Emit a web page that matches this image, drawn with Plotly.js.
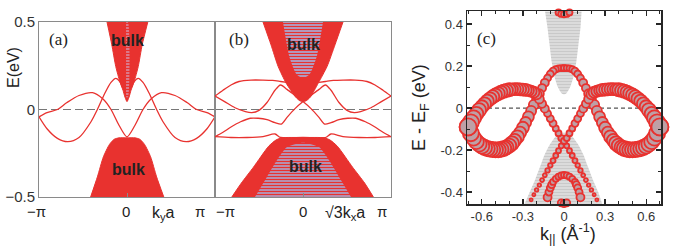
<!DOCTYPE html>
<html><head><meta charset="utf-8">
<script src="https://cdn.plot.ly/plotly-3.0.1.min.js"></script>
<style>html,body{margin:0;padding:0;background:#fff}#g{width:690px;height:248px}</style>
</head><body><div id="g"></div>
<script>
// ---------- Panel (a): x in units of pi, E in eV ----------
const aUpBulkX = [-0.25,-0.19,-0.14,-0.09,-0.05,-0.025,0,0.025,0.05,0.09,0.14,0.19,0.26];
const aUpBulkE = [0.5,0.37,0.245,0.16,0.11,0.07,0.045,0.07,0.11,0.16,0.245,0.37,0.5];
const aLowBulkX = [-0.455,-0.37,-0.295,-0.22,-0.16,-0.1,0,0.1,0.16,0.22,0.295,0.37,0.46];
const aLowBulkE = [-0.5,-0.385,-0.27,-0.2,-0.17,-0.162,-0.162,-0.162,-0.17,-0.2,-0.27,-0.385,-0.5];
const aStripeX = [-0.012,0.012,0.012,-0.012];
const aStripeE = [0.5,0.5,0.07,0.07];
const aArcX = [-1.1,-1.0,-0.87,-0.75,-0.6,-0.43,-0.3,-0.2,-0.1,0,0.1,0.2,0.3,0.43,0.6,0.75,0.87,1.0,1.1];
const aArcE = [-0.042,-0.018,0.0,0.04,0.08,0.096,0.06,0.0,-0.09,-0.156,-0.09,0.0,0.06,0.096,0.08,0.04,0.0,-0.018,-0.042];
const aLowArcLX = [-1.1,-1.0,-0.87,-0.74,-0.6,-0.45,-0.37,-0.28,-0.2,-0.14,-0.09,-0.05];
const aLowArcLE = [-0.042,-0.11,-0.165,-0.184,-0.16,-0.07,0.0,0.09,0.155,0.178,0.16,0.12];
const aLowArcRX = [1.1,1.0,0.87,0.74,0.6,0.45,0.37,0.28,0.2,0.14,0.09,0.05];
const aLowArcRE = [-0.042,-0.11,-0.165,-0.184,-0.16,-0.07,0.0,0.09,0.155,0.178,0.16,0.12];

// ---------- Panel (b) ----------
const bUpBulkX = [-0.5,-0.4,-0.31,-0.21,-0.09,-0.04,0,0.04,0.09,0.19,0.3,0.4,0.5];
const bUpBulkE = [0.5,0.37,0.245,0.15,0.07,0.05,0.045,0.05,0.07,0.15,0.245,0.37,0.5];
const bUpLavX = [-0.25,-0.17,-0.08,0,0.08,0.17,0.25];
const bUpLavE = [0.5,0.3,0.2,0.18,0.2,0.3,0.5];
const bLowBulkX = [-0.89,-0.77,-0.62,-0.43,-0.34,-0.27,0,0.27,0.34,0.43,0.62,0.77,0.88];
const bLowBulkE = [-0.5,-0.42,-0.33,-0.21,-0.175,-0.162,-0.16,-0.162,-0.175,-0.21,-0.33,-0.42,-0.5];
const bLowLavX = [-0.6,-0.47,-0.34,-0.2,0,0.2,0.34,0.47,0.6];
const bLowLavE = [-0.5,-0.4,-0.3,-0.215,-0.19,-0.215,-0.3,-0.4,-0.5];
const bTopLX = [-1.1,-1.0,-0.9,-0.8,-0.65,-0.5,-0.38,-0.28,-0.2];
const bTopLE = [0.077,0.11,0.14,0.16,0.168,0.168,0.166,0.16,0.155];
const bTopRX = [1.1,1.0,0.9,0.8,0.65,0.5,0.38,0.28,0.2];
const bTopRE = [0.077,0.11,0.14,0.16,0.168,0.168,0.166,0.16,0.155];
const bPX = [-1.1,-0.98,-0.85,-0.72,-0.64,-0.55,-0.45,-0.35,-0.28,-0.2,-0.1,0,0.1,0.2,0.27,0.35,0.45,0.56,0.66,0.78,0.9,1.0,1.1];
const bPE = [0.077,0.045,0.01,-0.012,-0.018,-0.005,0.04,0.11,0.14,0.115,0.08,0.045,0.005,-0.045,-0.083,-0.075,-0.058,-0.05,-0.05,-0.07,-0.1,-0.13,-0.155];
const bQX = [1.1,0.98,0.85,0.72,0.64,0.55,0.45,0.35,0.28,0.2,0.1,0,-0.1,-0.2,-0.27,-0.35,-0.45,-0.56,-0.66,-0.78,-0.9,-1.0,-1.1];
const bQE = [0.077,0.045,0.01,-0.012,-0.018,-0.005,0.04,0.11,0.14,0.115,0.08,0.045,0.005,-0.045,-0.083,-0.075,-0.058,-0.05,-0.05,-0.07,-0.1,-0.13,-0.155];
const bLow2X = [-1.1,-0.9,-0.7,-0.5,-0.35,-0.28,0,0.28,0.35,0.5,0.7,0.9,1.1];
const bLow2E = [-0.155,-0.16,-0.16,-0.155,-0.14,-0.16,-0.16,-0.16,-0.14,-0.155,-0.16,-0.16,-0.155];

// ---------- Panel (c): k in 1/Angstrom, E - EF in eV ----------
const cUpGrayK = [-0.138,-0.12,-0.105,-0.09,-0.07,-0.045,-0.02,0,0.02,0.045,0.07,0.09,0.105,0.12,0.128];
const cUpGrayE = [0.46,0.38,0.3,0.22,0.15,0.1,0.072,0.065,0.072,0.1,0.15,0.22,0.3,0.38,0.46];
const cLowGrayK = [-0.29,-0.25,-0.21,-0.175,-0.14,-0.1,-0.06,-0.03,0,0.03,0.06,0.1,0.14,0.175,0.21,0.25,0.28];
const cLowGrayE = [-0.46,-0.4,-0.34,-0.28,-0.22,-0.17,-0.135,-0.122,-0.118,-0.122,-0.135,-0.17,-0.22,-0.28,-0.34,-0.4,-0.46];

const c1K = [0.26,0.24,0.22,0.20,0.18,0.16,0.14,0.12,0.10,0.08,0.06,0.04,0.02,0.00,-0.02,-0.04,-0.06,-0.08,-0.10,-0.12,-0.14,-0.16,-0.18,-0.20,-0.22,-0.24,-0.26,-0.28,-0.30,-0.32,-0.34,-0.36,-0.38,-0.40,-0.42,-0.44,-0.46,-0.48,-0.50,-0.52,-0.54,-0.56,-0.58,-0.60,-0.62,-0.64,-0.66,-0.68,-0.70];
const c1E = [-0.460,-0.437,-0.413,-0.390,-0.367,-0.343,-0.320,-0.297,-0.273,-0.250,-0.226,-0.203,-0.180,-0.157,-0.143,-0.120,-0.097,-0.073,-0.050,-0.026,-0.003,0.020,0.043,0.065,0.075,0.080,0.084,0.086,0.088,0.089,0.090,0.090,0.089,0.087,0.084,0.080,0.075,0.069,0.062,0.054,0.044,0.033,0.020,0.006,-0.010,-0.028,-0.047,-0.068,-0.090];
const c1S = [2.5,3,3,3.5,3.5,4,4,4.5,4.5,5,5,5,5,6,6,6,6,7,7,7,8,8,9,10,11,11,11,12,12,12,12,12,12,13,13,13,13,13,13,13,13,13,13,13,14,14,15,16,17];
const c1rK = [-0.26,-0.24,-0.22,-0.20,-0.18,-0.16,-0.14,-0.12,-0.10,-0.08,-0.06,-0.04,-0.02,0.00,0.02,0.04,0.06,0.08,0.10,0.12,0.14,0.16,0.18,0.20,0.22,0.24,0.26,0.28,0.30,0.32,0.34,0.36,0.38,0.40,0.42,0.44,0.46,0.48,0.50,0.52,0.54,0.56,0.58,0.60,0.62,0.64,0.66,0.68,0.70];
const c1rE = [-0.460,-0.437,-0.413,-0.390,-0.367,-0.343,-0.320,-0.297,-0.273,-0.250,-0.226,-0.203,-0.180,-0.157,-0.143,-0.120,-0.097,-0.073,-0.050,-0.026,-0.003,0.020,0.043,0.065,0.075,0.080,0.084,0.086,0.088,0.089,0.090,0.090,0.089,0.087,0.084,0.080,0.075,0.069,0.062,0.054,0.044,0.033,0.020,0.006,-0.010,-0.028,-0.047,-0.068,-0.090];
const c1rS = [2.5,3,3,3.5,3.5,4,4,4.5,4.5,5,5,5,5,6,6,6,6,7,7,7,8,8,9,10,11,11,11,12,12,12,12,12,12,13,13,13,13,13,13,13,13,13,13,13,14,14,15,16,17];

const c2K = [0.00,-0.02,-0.04,-0.06,-0.08,-0.10,-0.12,-0.14,-0.16,-0.18,-0.20,-0.22,-0.24,-0.26,-0.28,-0.30,-0.32,-0.34,-0.36,-0.38,-0.40,-0.42,-0.44,-0.46,-0.48,-0.50,-0.52,-0.54,-0.56,-0.58,-0.60,-0.62,-0.64,-0.66,-0.68,-0.70];
const c2E = [0.190,0.190,0.189,0.185,0.176,0.162,0.143,0.120,0.095,0.068,0.042,0.015,-0.014,-0.042,-0.069,-0.094,-0.117,-0.137,-0.154,-0.168,-0.179,-0.187,-0.193,-0.197,-0.199,-0.199,-0.198,-0.196,-0.193,-0.188,-0.181,-0.172,-0.160,-0.143,-0.120,-0.090];
const c2S = [6,6,6,6,7,7,7,8,8,9,9,10,10,11,11,12,12,13,13,14,14,14,15,15,15,15,15,15,15,15,15,15,15,15,16,17];
const c2rK = [0.00,0.02,0.04,0.06,0.08,0.10,0.12,0.14,0.16,0.18,0.20,0.22,0.24,0.26,0.28,0.30,0.32,0.34,0.36,0.38,0.40,0.42,0.44,0.46,0.48,0.50,0.52,0.54,0.56,0.58,0.60,0.62,0.64,0.66,0.68,0.70];
const c2rE = [0.190,0.190,0.189,0.185,0.176,0.162,0.143,0.120,0.095,0.068,0.042,0.015,-0.014,-0.042,-0.069,-0.094,-0.117,-0.137,-0.154,-0.168,-0.179,-0.187,-0.193,-0.197,-0.199,-0.199,-0.198,-0.196,-0.193,-0.188,-0.181,-0.172,-0.160,-0.143,-0.120,-0.090];
const c2rS = [6,6,6,6,7,7,7,8,8,9,9,10,10,11,11,12,12,13,13,14,14,14,15,15,15,15,15,15,15,15,15,15,15,15,16,17];

const c3K = [-0.13,-0.12,-0.11,-0.10,-0.09,-0.08,-0.06,-0.04,-0.02,0,0.02,0.04,0.06,0.08,0.09,0.10,0.11,0.12,0.13];
const c3E = [-0.460,-0.425,-0.400,-0.380,-0.365,-0.352,-0.337,-0.327,-0.321,-0.319,-0.321,-0.327,-0.337,-0.352,-0.365,-0.380,-0.400,-0.425,-0.460];
const c3S = [8,8,7,7,7,6,6,6,6,6,6,6,6,6,7,7,7,8,8];
const c4K = [-0.04,-0.02,0,0.02,0.04];
const c4E = [0.455,0.448,0.446,0.448,0.455];
const c4S = [6,6,6,6,6];
const c5K = [-0.02,0,0.02];
const c5E = [-0.452,-0.455,-0.452];
const c5S = [7,7,7];

const RED = '#e8322f';
const LAV = '#a9acd8';
const FONT = 'Liberation Sans, Arial, sans-serif';

function poly(x, y, xa, ya, color) {
  return {x, y, xaxis: xa, yaxis: ya, type: 'scatter', mode: 'lines', fill: 'toself',
    fillcolor: color, line: {color: color, width: 1, shape: 'spline', smoothing: 0.6}, hoverinfo: 'skip'};
}
function patt(x, y, xa, ya, fg, bg, size, sol) {
  return {x, y, xaxis: xa, yaxis: ya, type: 'scatter', mode: 'none', fill: 'toself',
    fillcolor: bg, fillpattern: {shape: '-', fgcolor: fg, bgcolor: bg, size: size, solidity: sol},
    line: {shape: 'spline', smoothing: 0.6}, hoverinfo: 'skip'};
}
function curve(x, y, xa, ya) {
  return {x, y, xaxis: xa, yaxis: ya, type: 'scatter', mode: 'lines',
    line: {color: RED, width: 1.3, shape: 'spline', smoothing: 0.8}, hoverinfo: 'skip'};
}
function dots(x, y, s) {
  return {x, y, xaxis: 'x3', yaxis: 'y3', type: 'scatter', mode: 'markers', cliponaxis: false,
    marker: {size: s, color: 'rgb(190,160,166)', opacity: 1, line: {color: RED, width: 1.8}}, hoverinfo: 'skip'};
}

const data = [
  poly(aUpBulkX, aUpBulkE, 'x', 'y', RED),
  poly(aLowBulkX, aLowBulkE, 'x', 'y', RED),
  patt(aStripeX, aStripeE, 'x', 'y', RED, '#d890a8', 3, 0.5),
  curve(aArcX, aArcE, 'x', 'y'),
  curve(aLowArcLX, aLowArcLE, 'x', 'y'),
  curve(aLowArcRX, aLowArcRE, 'x', 'y'),

  poly(bUpBulkX, bUpBulkE, 'x2', 'y2', RED),
  patt(bUpLavX, bUpLavE, 'x2', 'y2', RED, LAV, 3, 0.45),
  poly(bLowBulkX, bLowBulkE, 'x2', 'y2', RED),
  patt(bLowLavX, bLowLavE, 'x2', 'y2', RED, LAV, 3, 0.5),
  curve(bTopLX, bTopLE, 'x2', 'y2'),
  curve(bTopRX, bTopRE, 'x2', 'y2'),
  curve(bPX, bPE, 'x2', 'y2'),
  curve(bQX, bQE, 'x2', 'y2'),
  curve(bLow2X, bLow2E, 'x2', 'y2'),

  patt(cUpGrayK, cUpGrayE, 'x3', 'y3', '#c9c9c9', '#e2e2e2', 3, 0.5),
  patt(cLowGrayK, cLowGrayE, 'x3', 'y3', '#c9c9c9', '#e2e2e2', 3, 0.5),
  dots(c4K, c4E, c4S),
  dots(c5K, c5E, c5S),
  dots(c3K, c3E, c3S),
  dots(c2K, c2E, c2S),
  dots(c2rK, c2rE, c2rS),
  dots(c1K, c1E, c1S),
  dots(c1rK, c1rE, c1rS)
];

const W = 690, H = 248;
const fx = p => p / W, fy = p => 1 - p / H;
const frameAB = {showline: true, mirror: true, linecolor: '#8a8a8a', linewidth: 1, showgrid: false, zeroline: false};
const axC = {showline: true, mirror: 'ticks', linecolor: '#262626', linewidth: 1.5, showgrid: false, zeroline: false,
  ticks: 'inside', ticklen: 5, tickwidth: 1.2, tickcolor: '#262626',
  tickfont: {family: FONT, size: 13, color: '#333'},
  minor: {ticks: 'inside', ticklen: 3, tickcolor: '#262626', tickwidth: 1, dtick: 0.1}};

const layout = {
  width: W, height: H, margin: {l: 0, r: 0, t: 0, b: 0}, showlegend: false,
  paper_bgcolor: '#fff', plot_bgcolor: '#fff',
  xaxis: Object.assign({}, frameAB, {domain: [fx(39), fx(215)], range: [-1.1, 1.1], anchor: 'y',
    ticks: 'inside', tickvals: [0], ticklen: 4, tickcolor: '#8a8a8a', showticklabels: false}),
  yaxis: Object.assign({}, frameAB, {domain: [fy(197), fy(22)], range: [-0.5, 0.5], anchor: 'x',
    tickvals: [-0.5, 0, 0.5], ticktext: ['\u22120.5', '0', '0.5'], ticks: '',
    tickfont: {family: FONT, size: 15, color: '#333'}}),
  xaxis2: Object.assign({}, frameAB, {domain: [fx(215), fx(391)], range: [-1.1, 1.1], anchor: 'y2',
    ticks: 'inside', tickvals: [0], ticklen: 4, tickcolor: '#8a8a8a', showticklabels: false}),
  yaxis2: Object.assign({}, frameAB, {domain: [fy(197), fy(22)], range: [-0.5, 0.5], anchor: 'x2',
    showticklabels: false, ticks: ''}),
  xaxis3: Object.assign({}, axC, {domain: [fx(467), fx(661)], range: [-0.708, 0.708], anchor: 'y3',
    tickvals: [-0.6, -0.3, 0, 0.3, 0.6], ticktext: ['-0.6', '-0.3', '0', '0.3', '0.6']}),
  yaxis3: Object.assign({}, axC, {domain: [fy(204), fy(11)], range: [-0.457, 0.462], anchor: 'x3',
    tickvals: [-0.4, -0.2, 0, 0.2, 0.4], ticktext: ['-0.4', '-0.2', '0', '0.2', '0.4']}),
  shapes: [
    {type: 'line', xref: 'x domain', yref: 'y', x0: 0, x1: 1, y0: 0, y1: 0, layer: 'below',
      line: {color: '#777', width: 1.2, dash: '8px,4px'}},
    {type: 'line', xref: 'x2 domain', yref: 'y2', x0: 0, x1: 1, y0: 0, y1: 0, layer: 'below',
      line: {color: '#777', width: 1.2, dash: '8px,4px'}},
    {type: 'line', xref: 'x3 domain', yref: 'y3', x0: 0, x1: 1, y0: 0, y1: 0, layer: 'below',
      line: {color: '#555', width: 1.2, dash: '4px,3px'}}
  ],
  annotations: []
};
const A = layout.annotations;
function txt(text, x, y, size, opts) {
  A.push(Object.assign({text, xref: 'paper', yref: 'paper', x: fx(x), y: fy(y), showarrow: false,
    xanchor: 'center', yanchor: 'middle', font: {family: FONT, size, color: '#222'}}, opts || {}));
}
txt('\u2212\u03c0', 36, 211, 15); txt('0', 126, 211, 15); txt('k<sub>y</sub>a', 163, 213, 16); txt('\u03c0', 200, 211, 15);
txt('\u2212\u03c0', 225, 211, 15); txt('0', 303, 211, 15); txt('\u221a3k<sub>x</sub>a', 345, 213, 16); txt('\u03c0', 382, 211, 15);
txt('E(eV)', 13, 68, 16, {textangle: -90});
txt('E - E<sub>F</sub> (eV)', 420, 108, 18, {textangle: -90});
txt('k<sub>||</sub> (\u00c5<sup>-1</sup>)', 568, 233, 18);
const SERIF = 'Liberation Serif, Times New Roman, serif';
txt('(a)', 58, 40, 17, {font: {family: SERIF, size: 17, color: '#222'}});
txt('(b)', 239, 40, 17, {font: {family: SERIF, size: 17, color: '#222'}});
txt('(c)', 486, 39, 17, {font: {family: SERIF, size: 17, color: '#222'}});
txt('<b>bulk</b>', 127, 41, 16); txt('<b>bulk</b>', 128, 169, 16);
txt('<b>bulk</b>', 303, 44, 16); txt('<b>bulk</b>', 305, 166, 16);

Plotly.newPlot('g', data, layout, {staticPlot: true});
</script></body></html>
